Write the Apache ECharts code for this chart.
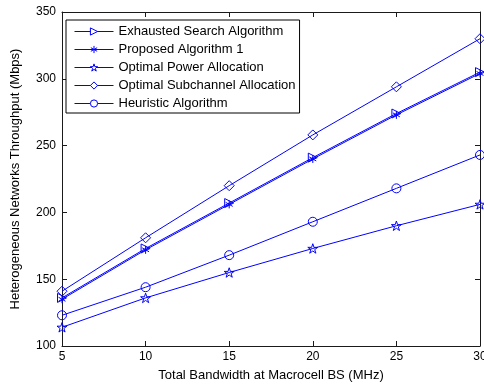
<!DOCTYPE html>
<html><head><meta charset="utf-8">
<script src="https://cdn.jsdelivr.net/npm/echarts@6/dist/echarts.min.js"></script>
<style>html,body{margin:0;padding:0;background:#fff}#c{width:484px;height:388px}</style>
</head><body><div id="c"></div>
<script>
var bandwidth = [5, 10, 15, 20, 25, 30];
var exhausted = [136, 173, 207, 241, 274, 305];
var proposed = [135, 172, 206, 240, 273, 304];
var optPower = [114, 136, 155, 173, 190, 206];
var optSub = [141, 181, 220, 258, 294, 330];
var heuristic = [123, 144, 168, 193, 218, 243];
var names = ['Exhausted Search Algorithm','Proposed Algorithm 1','Optimal Power Allocation','Optimal Subchannel Allocation','Heuristic Algorithm'];

var symTri = 'path://M-1,-1L1,0L-1,1Z';
var symAst = 'path://M0,-1L0,1M-0.87,-0.5L0.87,0.5M-0.87,0.5L0.87,-0.5M-1,0L-1,0M1,0L1,0';
var symStar = 'path://M0,-1L0.225,-0.309L0.951,-0.309L0.363,0.118L0.588,0.809L0,0.382L-0.588,0.809L-0.363,0.118L-0.951,-0.309L-0.225,-0.309Z';
var symDia = 'path://M0,-1L1,0L0,1L-1,0Z';
var symCir = 'circle';

function pairs(v){ return bandwidth.map(function(x,i){return [x, v[i]];}); }
function mk(name, data, sym, size){
  return {name:name, type:'line', data:pairs(data), symbol:sym, symbolSize:size, symbolKeepAspect:true,
    showAllSymbol:true, xAxisIndex:0, yAxisIndex:0, color:'#0000ff',
    lineStyle:{color:'#0000ff', width:1},
    itemStyle:{color:'rgba(255,255,255,0)', borderColor:'#0000ff', borderWidth:1},
    emphasis:{disabled:true}, animation:false};
}
var chart = echarts.init(document.getElementById('c'), null, {renderer:'canvas'});
var font = 'Arial, "Liberation Sans", Helvetica, sans-serif';
var axisCommon = {axisLine:{show:true, lineStyle:{color:'#1a1a1a', width:1}},
  axisTick:{show:true, inside:true, length:5, lineStyle:{color:'#1a1a1a'}},
  splitLine:{show:false}};
chart.setOption({
  animation:false,
  textStyle:{fontFamily:font},
  grid:{left:62, right:4, top:12, bottom:42, containLabel:false, outerBoundsMode:'none'},
  legend:{data:names, orient:'vertical', left:66, top:20,
    backgroundColor:'#fff', borderColor:'#000', borderWidth:1,
    padding:[5, 4, 3, 8], itemGap:5, itemWidth:39, itemHeight:9,
    itemStyle:{color:'#ffffff', borderColor:'#0000ff', borderWidth:1},
    lineStyle:{color:'#0000ff', width:1},
    textStyle:{fontSize:13, color:'#000', fontFamily:font}},
  xAxis:[
    Object.assign({type:'value', min:5, max:30, interval:5, position:'bottom',
      name:'Total Bandwidth at Macrocell BS (MHz)', nameLocation:'middle', nameGap:23,
      nameTextStyle:{fontSize:13, color:'#000', fontFamily:font},
      axisLabel:{fontSize:12, color:'#000', margin:5, fontFamily:font}}, axisCommon),
    Object.assign({type:'value', min:5, max:30, interval:5, position:'top', axisLabel:{show:false}}, axisCommon)
  ],
  yAxis:[
    Object.assign({type:'value', min:100, max:350, interval:50, position:'left',
      name:'Heterogeneous Networks Throughput (Mbps)', nameLocation:'middle', nameGap:40,
      nameTextStyle:{fontSize:13, color:'#000', fontFamily:font},
      axisLabel:{fontSize:12, color:'#000', margin:6, fontFamily:font}}, axisCommon),
    Object.assign({type:'value', min:100, max:350, interval:50, position:'right', axisLabel:{show:false}}, axisCommon)
  ],
  series:[
    mk(names[0], exhausted, symTri, 9),
    mk(names[1], proposed, symAst, 8),
    mk(names[2], optPower, symStar, 10),
    mk(names[3], optSub, symDia, 10),
    mk(names[4], heuristic, symCir, 9)
  ]
});
</script></body></html>
